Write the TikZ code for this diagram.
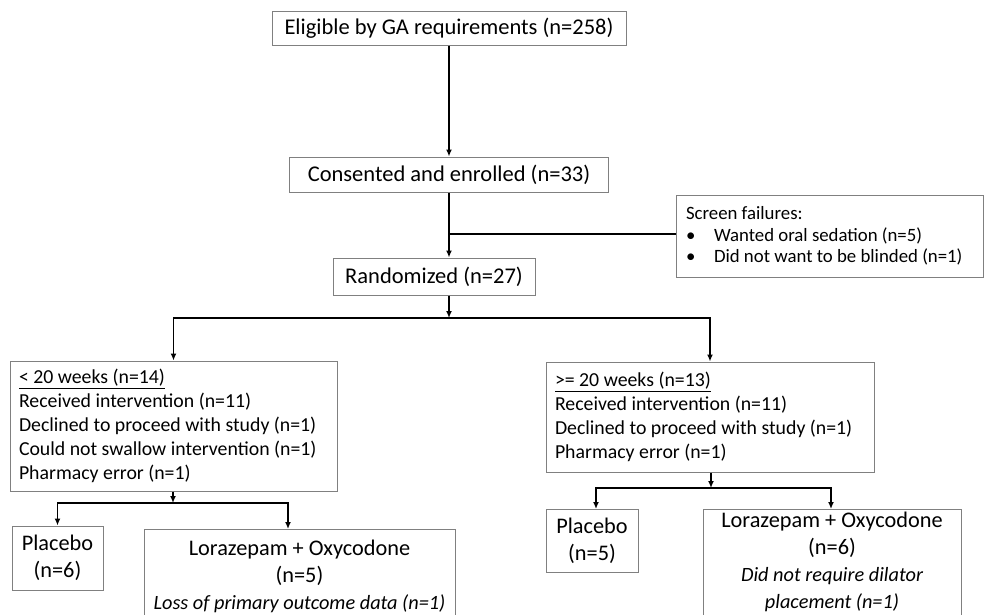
\documentclass[tikz,border=0pt]{standalone}
\usepackage{fontspec}
\setmainfont{Carlito}
\usetikzlibrary{arrows.meta}
\newcommand\notefont{\fontsize{20.3}{22.5}\selectfont\itshape}

\begin{document}
\begin{tikzpicture}[x=1pt,y=-1pt,
    box/.style={draw=black!50,line width=1pt,inner sep=0pt,align=flush center,font=\fontsize{22.5}{26}\selectfont},
    listbox/.style={box,align=flush left,inner xsep=9pt,font=\fontsize{19.8}{24}\selectfont},
    armbox/.style={box,font=\fontsize{22.3}{27}\selectfont},
    arr/.style={line width=1.5pt,-{Latex[length=7pt,width=6pt]}},
    bar/.style={line width=2pt}]
  \clip (0,0) rectangle (984,614);
  \node[box,minimum width=354,minimum height=34] (elig) at (449,28) {Eligible by GA requirements (n=258)};
  \node[box,minimum width=319,minimum height=35] (cons) at (449,174.5) {Consented and enrolled (n=33)};
  \node[box,minimum width=202,minimum height=37] (rand) at (434,276.5) {Randomized (n=27)};
  \node[listbox,inner xsep=10pt,text width=287pt,minimum height=82,font=\fontsize{18.8}{21.5}\selectfont] (scr) at (829.5,236)
    {Screen failures:\\\makebox[28pt][l]{\textbullet}Wanted oral sedation (n=5)\\\makebox[28pt][l]{\textbullet}Did not want to be blinded (n=1)};
  \node[listbox,text width=309pt,minimum height=130] (lt20) at (173.5,426)
    {\underline{< 20 weeks (n=14)}\\Received intervention (n=11)\\Declined to proceed with study (n=1)\\Could not swallow intervention (n=1)\\Pharmacy error (n=1)};
  \node[listbox,text width=310pt,minimum height=110] (ge20) at (710,417)
    {\underline{>= 20 weeks (n=13)}\\Received intervention (n=11)\\Declined to proceed with study (n=1)\\Pharmacy error (n=1)};
  \node[armbox,minimum width=91,minimum height=64] (plaL) at (57.5,558) {Placebo\\(n=6)};
  \node[armbox,minimum width=311,minimum height=94] (loxL) at (299.5,576)
    {Lorazepam + Oxycodone\\(n=5)\\{\notefont Loss of primary outcome data (n=1)}};
  \node[armbox,minimum width=258,minimum height=106] (loxR) at (832,562)
    {Lorazepam + Oxycodone\\(n=6)\\{\notefont Did not require dilator}\\{\notefont placement (n=1)}};
  \node[armbox,minimum width=92,minimum height=63] (plaR) at (592,540.5) {Placebo\\(n=5)};
  \coordinate (jT) at (449,318);
  \coordinate (jL) at (173,503);
  \coordinate (jR) at (711,488);
  \draw[arr] (elig.south) -- (cons.north);
  \draw[arr] (cons.south) -- (cons.south |- rand.north);
  \draw[bar] (cons.south |- 0,234) -- (scr.west |- 0,234);
  \draw[arr] (jT |- rand.south) -- (jT);
  \draw[bar] (lt20.north |- jT) -- (ge20.north |- jT);
  \draw[arr] (jT) -| (lt20.north);
  \draw[arr] (jT) -| (ge20.north);
  \draw[arr] (lt20.south -| jL) -- (jL);
  \draw[bar] (plaL.north |- jL) -- (288,503);
  \draw[arr] (jL) -| (plaL.north);
  \draw[arr] (jL) -| (288,529);
  \draw[arr] (ge20.south -| jR) -- (jR);
  \draw[bar] (596,488) -- (831,488);
  \draw[arr] (jR) -| (596,509);
  \draw[arr] (jR) -| (831,509);
\end{tikzpicture}
\end{document}
